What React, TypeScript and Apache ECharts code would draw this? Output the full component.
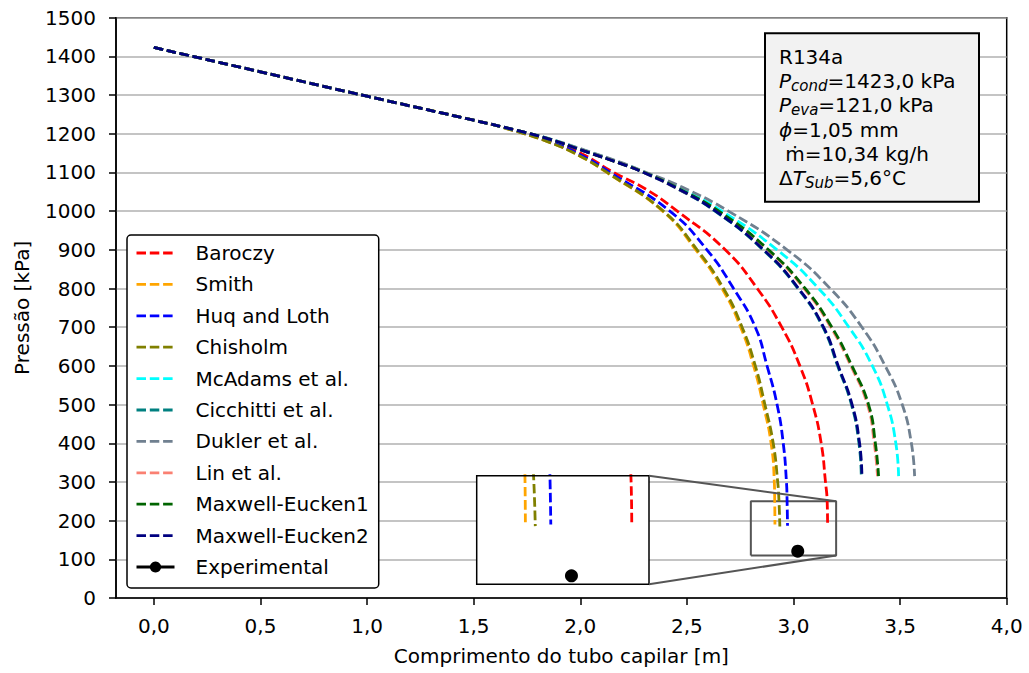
import React, { useEffect, useRef } from 'react';
import * as echarts from 'echarts';

const FONT = 'DejaVu Sans';

const seriesNames = [
  'Baroczy', 'Smith', 'Huq and Loth', 'Chisholm', 'McAdams et al.',
  'Cicchitti et al.', 'Dukler et al.', 'Lin et al.', 'Maxwell-Eucken1', 'Maxwell-Eucken2',
];
const seriesColors = [
  '#ff0000', '#ffa500', '#0000ff', '#808000', '#00ffff',
  '#008080', '#708090', '#fa8072', '#006400', '#000080',
];

// subcooled-liquid segment, shared by all models
const liquidSegment = [[0, 1423], [0.5, 1360], [1.0, 1297], [1.5, 1235]];

// two-phase segments
const baroczy = [[1.65, 1215], [1.85, 1182], [2.0, 1150], [2.157, 1100], [2.31, 1056], [2.455, 1000], [2.68, 900], [2.83, 800], [2.945, 700], [3.03, 600], [3.09, 500], [3.13, 400], [3.15, 300], [3.158, 250], [3.16, 185]];
const smith = [[1.65, 1214], [1.85, 1179], [2.0, 1142], [2.124, 1100], [2.386, 1000], [2.542, 900], [2.665, 800], [2.752, 700], [2.813, 600], [2.858, 500], [2.895, 400], [2.91, 300], [2.912, 250], [2.913, 190]];
const huqLoth = [[1.65, 1215], [1.85, 1181], [2.0, 1146], [2.14, 1100], [2.42, 1000], [2.594, 900], [2.719, 800], [2.821, 700], [2.876, 600], [2.923, 500], [2.952, 400], [2.967, 300], [2.97, 250], [2.972, 187]];
const chisholm = [[1.65, 1214], [1.85, 1179], [2.0, 1142], [2.126, 1100], [2.39, 1000], [2.548, 900], [2.672, 800], [2.759, 700], [2.821, 600], [2.866, 500], [2.905, 400], [2.926, 300], [2.932, 250], [2.936, 185]];
const mcadams = [[1.7, 1209], [1.85, 1188], [2.02, 1157], [2.2, 1123], [2.305, 1100], [2.46, 1062], [2.665, 1000], [2.923, 900], [3.118, 800], [3.26, 700], [3.37, 600], [3.44, 500], [3.48, 400], [3.493, 315]];
const cicchitti = [[1.7, 1209], [1.85, 1187], [2.02, 1155], [2.2, 1121], [2.297, 1100], [2.447, 1060], [2.632, 1000], [2.857, 900], [3.021, 800], [3.138, 700], [3.207, 600], [3.272, 500], [3.307, 400], [3.318, 315]];
const dukler = [[1.7, 1209], [1.85, 1188], [2.02, 1158], [2.2, 1124], [2.31, 1100], [2.47, 1064], [2.695, 1000], [2.97, 900], [3.172, 800], [3.321, 700], [3.43, 600], [3.51, 500], [3.553, 400], [3.568, 315]];
const lin = [[1.7, 1209], [1.85, 1187], [2.02, 1155], [2.2, 1121], [2.298, 1100], [2.45, 1060], [2.645, 1000], [2.878, 900], [3.05, 800], [3.175, 700], [3.269, 600], [3.347, 500], [3.379, 400], [3.394, 315]];
const maxwellEucken1 = [[1.7, 1209], [1.85, 1187], [2.02, 1155], [2.2, 1121], [2.3, 1100], [2.455, 1060], [2.65, 1000], [2.883, 900], [3.055, 800], [3.18, 700], [3.274, 600], [3.352, 500], [3.384, 400], [3.399, 315]];
const maxwellEucken2 = [[1.7, 1209], [1.85, 1187], [2.02, 1155], [2.2, 1121], [2.3, 1099], [2.45, 1060], [2.635, 1000], [2.86, 900], [3.024, 800], [3.141, 700], [3.21, 600], [3.275, 500], [3.31, 400], [3.321, 315]];

const experimental = [[3.02, 121]];

const xTicks = [0, 0.5, 1, 1.5, 2, 2.5, 3, 3.5, 4];
const xRange = [-0.1775, 4.0];
const yRange = [0, 1500];
const insetX = [2.8, 3.2];
const insetY = [110, 250];

const textLines = [
  '{n|R134a}',
  '{i|P}{s|cond}{n|=1423,0 kPa}',
  '{i|P}{s|eva}{n|=121,0 kPa}',
  '{i|ϕ}{n|=1,05 mm}',
  '{n| ṁ=10,34 kg/h}',
  '{n|Δ}{i|T}{s|Sub}{n|=5,6°C}',
];

export default function App() {
  const ref = useRef<HTMLDivElement>(null);
  useEffect(() => {
    const chart = echarts.init(ref.current as HTMLDivElement, null, { renderer: 'svg' });
    const curves = [baroczy, smith, huqLoth, chisholm, mcadams, cicchitti, dukler, lin, maxwellEucken1, maxwellEucken2];
    const dash = [9.5, 3.8];
    const lw = 2.8;
    const makeCurve = (idx: number, grid: number) => ({
      type: 'line',
      name: seriesNames[idx],
      data: [...liquidSegment, ...curves[idx]],
      xAxisIndex: grid,
      yAxisIndex: grid,
      symbol: 'none',
      showSymbol: false,
      smooth: 0.5,
      clip: true,
      silent: true,
      z: 3,
      itemStyle: { color: seriesColors[idx] },
      lineStyle: { color: seriesColors[idx], width: lw, type: dash },
    });
    const makeExp = (grid: number) => ({
      type: 'line',
      name: 'Experimental',
      data: experimental,
      xAxisIndex: grid,
      yAxisIndex: grid,
      symbol: 'circle',
      symbolSize: 13,
      showSymbol: true,
      clip: false,
      silent: true,
      z: 5,
      itemStyle: { color: '#000' },
      lineStyle: { color: '#000', width: 3 },
    });
    const rectPts = [
      [insetX[0], insetY[0]], [insetX[1], insetY[0]], [insetX[1], insetY[1]],
      [insetX[0], insetY[1]], [insetX[0], insetY[0]],
    ];
    const series: any[] = [];
    series.push({
      type: 'line', name: '_zoomRect', data: rectPts, xAxisIndex: 0, yAxisIndex: 0,
      symbol: 'none', silent: true, z: 2,
      lineStyle: { color: '#555', width: 2 },
    });
    curves.forEach((_, i) => series.push(makeCurve(i, 0)));
    series.push(makeExp(0));
    curves.forEach((_, i) => series.push(makeCurve(i, 1)));
    series.push(makeExp(1));

    const baseText = { fontFamily: FONT, fontSize: 20, color: '#000' };
    const legendData: any[] = seriesNames.map((n, i) => ({
      name: n,
      itemStyle: { opacity: 0 },
      lineStyle: { width: lw, type: dash, color: seriesColors[i] },
    }));
    legendData.push({ name: 'Experimental', lineStyle: { width: 3, color: '#000' } });
    const option: any = {
      animation: false,
      backgroundColor: '#fff',
      grid: [
        { left: 116, top: 17.7, right: 22.3, bottom: 75, show: true, borderColor: '#000', borderWidth: 1.5, backgroundColor: 'transparent' },
        { left: 476.7, top: 475.7, width: 172.3, height: 108.6, show: false },
      ],
      xAxis: [
        {
          type: 'value', gridIndex: 0, min: xRange[0], max: xRange[1],
          name: 'Comprimento do tubo capilar [m]', nameLocation: 'middle', nameGap: 48,
          nameTextStyle: { ...baseText },
          axisLine: { show: true, onZero: false, lineStyle: { color: '#000', width: 1.5 } },
          axisTick: { show: true, customValues: xTicks, length: 7, lineStyle: { color: '#000', width: 1.5 } },
          axisLabel: { ...baseText, customValues: xTicks, margin: 18, formatter: (v: number) => v.toFixed(1).replace('.', ',') },
          splitLine: { show: false },
        },
        {
          type: 'value', gridIndex: 1, min: insetX[0], max: insetX[1],
          axisLine: { show: false }, axisTick: { show: false }, axisLabel: { show: false }, splitLine: { show: false },
        },
      ],
      yAxis: [
        {
          type: 'value', gridIndex: 0, min: yRange[0], max: yRange[1], interval: 100,
          name: 'Pressão [kPa]', nameLocation: 'middle', nameGap: 84,
          nameTextStyle: { ...baseText },
          axisLine: { show: true, onZero: false, lineStyle: { color: '#000', width: 1.5 } },
          axisTick: { show: true, length: 7, lineStyle: { color: '#000', width: 1.5 } },
          axisLabel: { ...baseText, margin: 20, formatter: (v: number) => String(Math.round(v)) },
          splitLine: { show: true, lineStyle: { color: '#b0b0b0', width: 1.5 } },
        },
        {
          type: 'value', gridIndex: 1, min: insetY[0], max: insetY[1],
          axisLine: { show: false }, axisTick: { show: false }, axisLabel: { show: false }, splitLine: { show: false },
        },
      ],
      legend: {
        data: legendData,
        orient: 'vertical',
        left: 127, top: 235,
        itemWidth: 38, itemHeight: 14, itemGap: 11.4,
        padding: [8, 10, 11, 8],
        backgroundColor: '#fff', borderColor: '#000', borderWidth: 1.5, borderRadius: 4,
        selectedMode: false,
        textStyle: { ...baseText, lineHeight: 20, padding: [0, 0, 0, 16] },
        z: 10,
      },
      series,
    };
    chart.setOption(option);

    const tr = chart.convertToPixel({ gridIndex: 0 } as any, [insetX[1], insetY[1]]) as number[];
    const br = chart.convertToPixel({ gridIndex: 0 } as any, [insetX[1], insetY[0]]) as number[];
    const itl = chart.convertToPixel({ gridIndex: 1 } as any, [insetX[0], insetY[1]]) as number[];
    const itr = chart.convertToPixel({ gridIndex: 1 } as any, [insetX[1], insetY[1]]) as number[];
    const ibr = chart.convertToPixel({ gridIndex: 1 } as any, [insetX[1], insetY[0]]) as number[];

    const richBase = { fontFamily: FONT, fontSize: 20, lineHeight: 24.3, fill: '#000', color: '#000' };
    chart.setOption({
      graphic: {
        elements: [
          { type: 'rect', z: 1, silent: true, shape: { x: itl[0], y: itl[1], width: ibr[0] - itl[0], height: ibr[1] - itl[1] }, style: { fill: '#fff' } },
          { type: 'rect', z: 6, silent: true, shape: { x: itl[0], y: itl[1], width: ibr[0] - itl[0], height: ibr[1] - itl[1] }, style: { fill: 'none', stroke: '#000', lineWidth: 1.5 } },
          { type: 'line', z: 6, silent: true, shape: { x1: itr[0], y1: itr[1], x2: tr[0], y2: tr[1] }, style: { stroke: '#555', lineWidth: 2 } },
          { type: 'line', z: 6, silent: true, shape: { x1: ibr[0], y1: ibr[1], x2: br[0], y2: br[1] }, style: { stroke: '#555', lineWidth: 2 } },
          { type: 'rect', z: 10, silent: true, shape: { x: 765, y: 33.3, width: 214, height: 168.4 }, style: { fill: '#f2f2f2', stroke: '#000', lineWidth: 2 } },
          {
            type: 'text', z: 11, silent: true, x: 779, y: 44.5,
            style: {
              text: textLines.join('\n'),
              verticalAlign: 'top',
              align: 'left',
              fill: '#000',
              font: `20px "${FONT}"`,
              rich: {
                n: { ...richBase },
                i: { ...richBase, fontStyle: 'italic' },
                s: { ...richBase, fontSize: 15, lineHeight: 15, fontStyle: 'italic', verticalAlign: 'bottom' },
              },
            },
          },
        ],
      },
    });

    return () => chart.dispose();
  }, []);
  return <div ref={ref} style={{ position: 'absolute', left: 0, top: 0, width: 1029, height: 673 }} />;
}
